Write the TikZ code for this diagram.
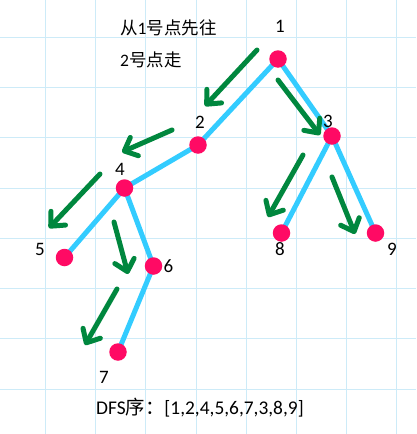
\documentclass[tikz,border=0pt]{standalone}
\usepackage{fontspec}
\setmainfont{Carlito}
\newfontfamily\cjk{Noto Sans CJK SC}
\usetikzlibrary{arrows.meta,backgrounds}
\definecolor{gridc}{HTML}{CDEBF8}
\definecolor{edgec}{HTML}{33CCFF}
\definecolor{vtxc}{HTML}{FF0A64}
\definecolor{arrc}{HTML}{00873E}
\begin{document}
\begin{tikzpicture}[x=1pt,y=-1pt,
  vtx/.style={circle,fill=vtxc,inner sep=0pt,minimum size=17.5pt},
  edg/.style={edgec,line width=5pt},
  dfsarrow/.style={arrc,line width=5pt,line cap=round,-{Straight Barb[length=11pt,width=20pt,round]}},
  lbl/.style={font=\fontsize{19}{21}\selectfont,inner sep=0pt},
  txt/.style={font=\fontsize{17.5}{20}\selectfont,inner sep=0pt,anchor=west}]
\useasboundingbox (0,0) rectangle (416,434);
% vertices
\node[vtx] (n1) at (278,59) {};
\node[vtx] (n2) at (198,145) {};
\node[vtx] (n3) at (332,136) {};
\node[vtx] (n4) at (124.5,188) {};
\node[vtx] (n5) at (64.5,257.5) {};
\node[vtx] (n6) at (153.5,266) {};
\node[vtx] (n7) at (118,352) {};
\node[vtx] (n8) at (281.5,233) {};
\node[vtx] (n9) at (375.5,233) {};
\begin{scope}[on background layer]
\fill[white] (0,0) rectangle (416,434);
% grid
\foreach \x in {45,95.3,145.6,196,246.2,296.4,346.6,396.8}
  \draw[gridc,line width=1pt] (\x,0) -- (\x,434);
\foreach \y in {37,87.3,137.6,188,238.2,288.5,338.8,389}
  \draw[gridc,line width=1pt] (0,\y) -- (416,\y);
% edges
\draw[edg] (n1.center) -- (n2.center);
\draw[edg] (n1.center) -- (n3.center);
\draw[edg] (n2.center) -- (n4.center);
\draw[edg] (n4.center) -- (n5.center);
\draw[edg] (n4.center) -- (n6.center);
\draw[edg] (n6.center) -- (n7.center);
\draw[edg] (n3.center) -- (n8.center);
\draw[edg] (n3.center) -- (n9.center);
\end{scope}
% labels
\node[lbl] (l1) at (280,26) {1};
\node[lbl] (l2) at (200,122) {2};
\node[lbl] (l3) at (328,121) {3};
\node[lbl] (l4) at (120,169) {4};
\node[lbl] (l5) at (40,249) {5};
\node[lbl] (l6) at (168.5,266) {6};
\node[lbl] (l7) at (104,377) {7};
\node[lbl] (l8) at (280,249) {8};
\node[lbl] (l9) at (392,249) {9};
% texts
\node[txt] (t1) at (120,28) {{\cjk 从}1{\cjk 号点先往}};
\node[txt] (t2) at (120,60) {2{\cjk 号点走}};
\node[txt,font=\fontsize{19.4}{21}\selectfont] (t3) at (96,408) {DFS{\cjk 序：}[1,2,4,5,6,7,3,8,9]};
% arrows
\coordinate (a1s) at (257,50);   \coordinate (a1e) at (205,106);
\coordinate (a2s) at (278,80);   \coordinate (a2e) at (320,135);
\coordinate (a3s) at (172,130);  \coordinate (a3e) at (122,152);
\coordinate (a4s) at (100,174);  \coordinate (a4e) at (49,228);
\coordinate (a5s) at (114,222);  \coordinate (a5e) at (128,274);
\coordinate (a6s) at (117,289);  \coordinate (a6e) at (85,345);
\coordinate (a7s) at (303,155);  \coordinate (a7e) at (268,217);
\coordinate (a8s) at (332,177);  \coordinate (a8e) at (355,234);
\draw[dfsarrow] (a1s) -- (a1e);
\draw[dfsarrow] (a2s) -- (a2e);
\draw[dfsarrow] (a3s) -- (a3e);
\draw[dfsarrow] (a4s) -- (a4e);
\draw[dfsarrow] (a5s) -- (a5e);
\draw[dfsarrow] (a6s) -- (a6e);
\draw[dfsarrow] (a7s) -- (a7e);
\draw[dfsarrow] (a8s) -- (a8e);
\end{tikzpicture}
\end{document}
